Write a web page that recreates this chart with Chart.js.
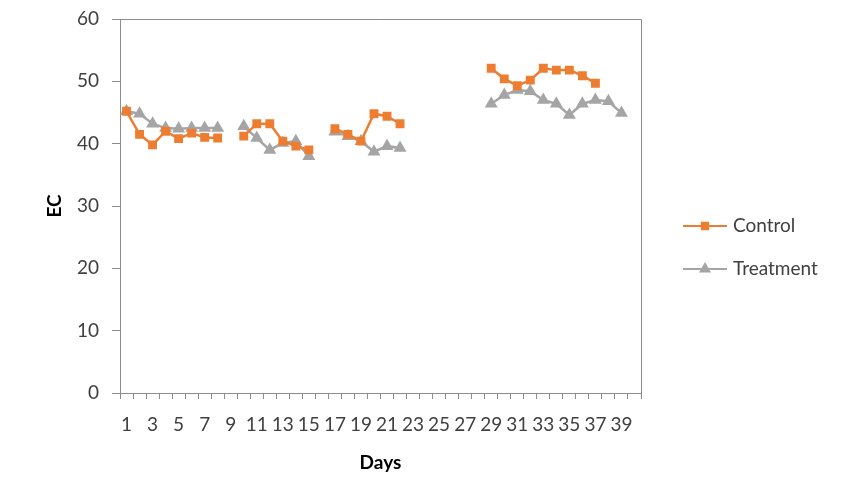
<!DOCTYPE html>
<html>
<head>
<meta charset="utf-8">
<script src="https://cdn.jsdelivr.net/npm/chart.js@4.4.1/dist/chart.umd.min.js"></script>
<style>
html, body { margin: 0; padding: 0; background: #fff; }
#wrap { width: 843px; height: 498px; position: relative; }
</style>
</head>
<body>
<div id="wrap"><canvas id="ec-chart" width="843" height="498"></canvas></div>
<script>
// days on the category axis (only every other one gets a label)
const days = ['1','2','3','4','5','6','7','8','9','10','11','12','13','14','15','16','17','18','19','20',
              '21','22','23','24','25','26','27','28','29','30','31','32','33','34','35','36','37','38','39','40'];

// EC readings, null = no measurement that day
const control = [45.2, 41.5, 39.8, 42.0, 40.8, 41.7, 41.0, 40.9, null,
                 41.2, 43.2, 43.2, 40.4, 39.6, 39.0, null,
                 42.4, 41.5, 40.4, 44.8, 44.4, 43.2,
                 null, null, null, null, null, null,
                 52.1, 50.4, 49.3, 50.2, 52.1, 51.8, 51.8, 50.9, 49.7,
                 null, null, null];

const treatment = [45.2, 44.8, 43.2, 42.5, 42.4, 42.5, 42.5, 42.5, null,
                   42.8, 40.9, 39.0, 40.1, 40.4, 38.0, null,
                   41.9, 41.2, 40.4, 38.7, 39.6, 39.3,
                   null, null, null, null, null, null,
                   46.4, 47.8, 48.6, 48.4, 47.0, 46.4, 44.6, 46.4, 47.0, 46.8, 44.9,
                   null];

const seriesNames = ['Control', 'Treatment'];
const seriesColors = ['#ED7D31', '#A5A5A5'];

const FONT = "Lato, 'Liberation Sans', sans-serif";
const axisColor = '#8c8c8c';

// plot frame on top/right and the legend on the right, like the excel original
const frameAndLegend = {
    id: 'frameAndLegend',
    afterDraw(chart) {
        const ctx = chart.ctx;
        const a = chart.chartArea;
        ctx.save();
        ctx.strokeStyle = axisColor;
        ctx.lineWidth = 1;
        ctx.beginPath();
        ctx.moveTo(a.left, a.top + 0.5);
        ctx.lineTo(a.right + 0.5, a.top + 0.5);
        ctx.lineTo(a.right + 0.5, a.bottom);
        ctx.stroke();

        chart.data.datasets.forEach((ds, i) => {
            const y = 226 + i * 43;
            const x0 = a.right + 42;
            const x1 = x0 + 44;
            ctx.strokeStyle = ds.borderColor;
            ctx.lineWidth = 2;
            ctx.beginPath();
            ctx.moveTo(x0, y);
            ctx.lineTo(x1, y);
            ctx.stroke();
            ctx.fillStyle = ds.pointBackgroundColor;
            ctx.strokeStyle = ds.pointBorderColor;
            Chart.helpers.drawPoint(ctx, {pointStyle: ds.pointStyle, radius: ds.pointRadius, borderWidth: 1, rotation: 0}, (x0 + x1) / 2, y);
            ctx.fillStyle = '#404040';
            ctx.font = '19px ' + FONT;
            ctx.textBaseline = 'middle';
            ctx.textAlign = 'left';
            ctx.fillText(ds.label, x1 + 6, y);
        });
        ctx.restore();
    }
};

function drawChart() {
    const ctx = document.getElementById('ec-chart');
    new Chart(ctx, {
        type: 'line',
        data: {
            labels: days,
            datasets: [
                {
                    label: seriesNames[0],
                    data: control,
                    borderColor: seriesColors[0],
                    backgroundColor: seriesColors[0],
                    pointBackgroundColor: seriesColors[0],
                    pointBorderColor: seriesColors[0],
                    pointStyle: 'rect',
                    pointRadius: 4.5,
                    borderWidth: 2.5,
                    spanGaps: false
                },
                {
                    label: seriesNames[1],
                    data: treatment,
                    borderColor: seriesColors[1],
                    backgroundColor: seriesColors[1],
                    pointBackgroundColor: seriesColors[1],
                    pointBorderColor: seriesColors[1],
                    pointStyle: 'triangle',
                    pointRadius: 5,
                    borderWidth: 2.5,
                    spanGaps: false
                }
            ]
        },
        options: {
            responsive: false,
            animation: false,
            devicePixelRatio: 1,
            layout: {
                padding: {left: 0, right: 202, top: 19, bottom: 0}
            },
            plugins: {
                legend: {display: false},
                tooltip: {enabled: false}
            },
            scales: {
                x: {
                    type: 'category',
                    offset: true,
                    afterFit: s => { s.height = 105; },
                    grid: {
                        offset: true,
                        drawOnChartArea: false,
                        drawTicks: true,
                        tickLength: 6,
                        color: axisColor
                    },
                    border: {color: axisColor, width: 1},
                    ticks: {
                        autoSkip: false,
                        maxRotation: 0,
                        minRotation: 0,
                        padding: 14,
                        color: '#404040',
                        font: {family: FONT, size: 19},
                        callback: function (value, index) {
                            return index % 2 === 0 ? this.getLabelForValue(value) : '';
                        }
                    },
                    title: {
                        display: true,
                        text: 'Days',
                        color: '#000',
                        font: {family: FONT, size: 19, weight: 'bold'},
                        padding: {top: 0, bottom: 24}
                    }
                },
                y: {
                    min: 0,
                    max: 60,
                    afterFit: s => {
                        s.width = 120;
                        s.paddingTop = 0;
                        s.paddingBottom = 0;
                    },
                    grid: {
                        drawOnChartArea: false,
                        drawTicks: true,
                        tickLength: 8,
                        color: axisColor
                    },
                    border: {color: axisColor, width: 1},
                    ticks: {
                        stepSize: 10,
                        padding: 13,
                        color: '#404040',
                        font: {family: FONT, size: 19}
                    },
                    title: {
                        display: true,
                        text: 'EC',
                        color: '#000',
                        font: {family: FONT, size: 19, weight: 'bold'},
                        padding: {top: 43, bottom: 0}
                    }
                }
            }
        },
        plugins: [frameAndLegend]
    });
}

window.addEventListener('load', evt => drawChart());
</script>
</body>
</html>
